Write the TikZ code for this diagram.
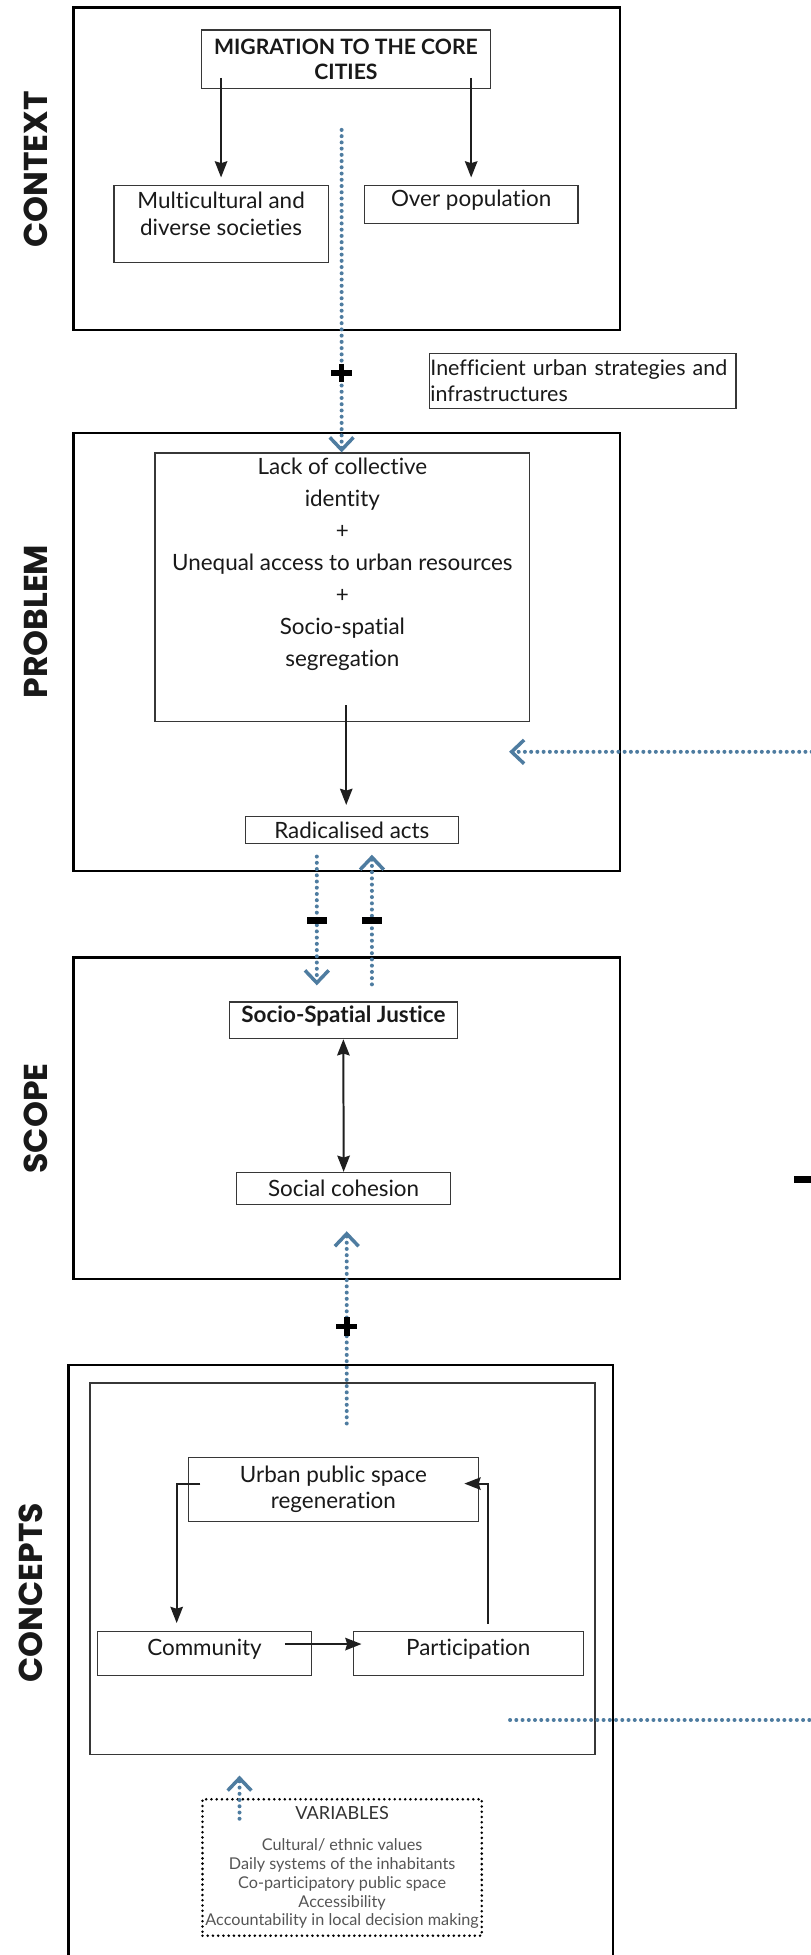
\documentclass[tikz,border=0pt]{standalone}
\usepackage{fontspec}
\setmainfont{Lato}[Ligatures=NoCommon]
\newfontfamily\labelfont{Poppins}
\usetikzlibrary{arrows.meta,calc}
\definecolor{dotblue}{RGB}{78,124,160}
\definecolor{edge}{RGB}{55,55,55}
\definecolor{vargray}{RGB}{85,85,85}
\tikzset{
  >={Stealth[length=13pt,width=10pt,inset=1.5pt]},
  frame/.style={draw=black, line width=2pt, inner sep=0pt},
  box/.style={draw=edge, line width=1pt, inner sep=0pt, align=center, font=\fontsize{18}{22}\selectfont, text=black!90},
  txt/.style={inner sep=0pt, align=center, font=\fontsize{18}{22}\selectfont, text=black!90},
  high/.style={text height=13pt, text depth=10pt},
  sidelabel/.style={rotate=90, inner sep=0pt, font=\labelfont\bfseries\fontsize{26.5}{26.5}\selectfont, text=black!90},
  blk/.style={draw=black!88, line width=1.6pt, ->},
  bluedots/.style={draw=dotblue, line width=3.2pt, line cap=round, dash pattern=on 0pt off 5pt},
  chev/.style={-{Straight Barb[length=10pt,width=19pt,line width=2.8pt]}},
  signbar/.style={fill=black, draw=none, inner sep=0pt},
}
\begin{document}
\begin{tikzpicture}[x=1pt,y=-1pt]
\useasboundingbox (0,0) rectangle (650,1568);
\fill[white] (0,0) rectangle (650,1568);

% ---------------- CONTEXT
\node[frame, minimum width=438pt, minimum height=258.6pt] (ctx) at (278.1,135.2) {};
\node[sidelabel] (ctxlab) at (29,136) {CONTEXT};
\node[box, font=\bfseries\fontsize{17}{20.6}\selectfont, minimum width=231.8pt, minimum height=47pt] (mig) at (277.5,47.5) {MIGRATION TO THE CORE\\CITIES};
\node[box, minimum width=171.9pt, minimum height=61.7pt] (multi) at (177.3,179.7) {};
\node[txt, font=\fontsize{18}{22.2}\selectfont] (multitxt) at (177.3,171.4) {Multicultural and\\diverse societies};
\node[box, high, minimum width=171.5pt, minimum height=30.7pt] (over) at (377.9,164.2) {Over population};
\coordinate (m1) at (mig.south west -| multi.north);
\coordinate (m2) at (mig.south west -| over.north);
\draw[blk] ($(m1)+(0,-9)$) -- ($(multi.north)+(0,-6)$);
\draw[blk] ($(m2)+(0,-9)$) -- ($(over.north)+(0,-6)$);

\node[box, align=left, text width=244pt, inner xsep=1pt, minimum width=245.9pt, minimum height=44.1pt, font=\fontsize{17.2}{20.6}\selectfont] (ineff) at (467.2,305.3) {Inefficient urban strategies and\\infrastructures};

% ---------------- PROBLEM
\node[frame, minimum width=438pt, minimum height=351.3pt] (pbl) at (278.1,523) {};
\node[sidelabel] (pbllab) at (29,498.6) {PROBLEM};
\node[box, minimum width=300.4pt, minimum height=215.1pt] (prob) at (274.6,470.9) {};
\node[txt, font=\fontsize{18}{25.7}\selectfont] (probtxt) at (274.6,452.4) {Lack of collective\\identity\\+\\Unequal access to urban resources\\+\\Socio-spatial\\segregation};
\node[box, minimum width=171.1pt, minimum height=21.4pt] (rad) at (282.2,665.8) {Radicalised acts};
\coordinate (a1) at ($(prob.south)+(3.1,-13.3)$);
\draw[blk, shorten >=9pt] (a1) -- (a1 |- rad.north);

% dotted line context -> problem
\coordinate (d1) at (274,104.2);
\draw[bluedots, chev] (d1) -- (d1 |- prob.north);
\node[signbar, minimum width=16.5pt, minimum height=4.6pt] (plus1h) at (274,299.2) {};
\node[signbar, minimum width=4.6pt, minimum height=14.7pt] (plus1v) at (274,299.2) {};

% long dotted line from the right
\coordinate (r1) at (656,603);
\coordinate (r1e) at (408.3,603);
\draw[bluedots, chev] (r1) -- (r1e);

% ---------------- SCOPE
\node[frame, minimum width=438pt, minimum height=258pt] (scp) at (278.1,897) {};
\node[sidelabel] (scplab) at (29,897) {SCOPE};
\node[box, high, font=\bfseries\fontsize{18}{22}\selectfont, minimum width=183pt, minimum height=29.4pt] (ssj) at (275.4,818.3) {Socio-Spatial Justice};
\node[box, minimum width=171.9pt, minimum height=25.4pt] (sc) at (275.6,953.1) {Social cohesion};
\draw[blk, <->] (ssj.south) -- (sc.north);

\coordinate (l1) at (254.1,687);
\draw[bluedots, chev, shorten >=12.8pt] (l1) -- (l1 |- ssj.north);
\coordinate (r2) at (298.3,789.5);
\draw[bluedots, chev, shorten >=8.5pt] (r2) -- (r2 |- rad.south);
\node[signbar, minimum width=15.7pt, minimum height=5.5pt] (minus1) at (254.1,738) {};
\node[signbar, minimum width=15.7pt, minimum height=5.5pt] (minus2) at (298.3,738) {};

\coordinate (u1) at (278.1,1141.7);
\draw[bluedots, chev, shorten >=21.2pt] (u1) -- (u1 |- sc.south);
\node[signbar, minimum width=16.5pt, minimum height=4.6pt] (plus2h) at (278.1,1064) {};
\node[signbar, minimum width=4.6pt, minimum height=14.7pt] (plus2v) at (278.1,1064) {};

\node[signbar, minimum width=16pt, minimum height=5pt] (minus3) at (645,946) {};

% ---------------- CONCEPTS
\node[frame, minimum width=436.7pt, minimum height=520pt] (cpt) at (273.35,1354.8) {};
\node[sidelabel] (cptlab) at (24.8,1277.4) {CONCEPTS};
\node[box, line width=1.2pt, minimum width=405pt, minimum height=297.8pt] (cin) at (274.8,1258.3) {};
\node[box, font=\fontsize{18}{20.9}\selectfont, minimum width=232.3pt, minimum height=51.5pt] (urb) at (267.4,1194.5) {Urban public space\\regeneration};
\node[box, high, minimum width=171.1pt, minimum height=34.9pt] (com) at (164,1326.2) {Community};
\node[box, high, minimum width=184.3pt, minimum height=34.9pt] (par) at (375.6,1326.2) {Participation};
\draw[blk] ($(urb.west)+(10,-4.6)$) -| ($(com.north)+(-22.3,-6.5)$);
\draw[blk] ($(com.east)+(-21.5,-7.6)$) -- ($(par.west)+(7,-7.6)$);
\draw[blk] ($(par.north)+(16.1,-5.9)$) |- ($(urb.east)+(-11.6,-4.6)$);

\coordinate (h1) at (409.1,1379.5);
\coordinate (h1e) at (656,1379.5);
\draw[bluedots] (h1) -- (h1e);

\node[draw=black, line width=2.3pt, line cap=round, dash pattern=on 0pt off 4.2pt, inner sep=0pt, minimum width=224pt, minimum height=109.4pt, align=center, text=vargray, font=\fontsize{13}{15.1}\selectfont] (var) at (274.4,1497.8) {{\fontsize{14.5}{15}\selectfont\color{black!80}VARIABLES}\\[10pt]Cultural/ ethnic values\\Daily systems of the inhabitants\\Co-participatory public space\\Accessibility\\Accountability in local decision making};

\coordinate (v1) at (192.1,1458.7);
\draw[bluedots, chev, shorten >=16.3pt] (v1) -- (v1 |- cin.south);
\end{tikzpicture}
\end{document}
